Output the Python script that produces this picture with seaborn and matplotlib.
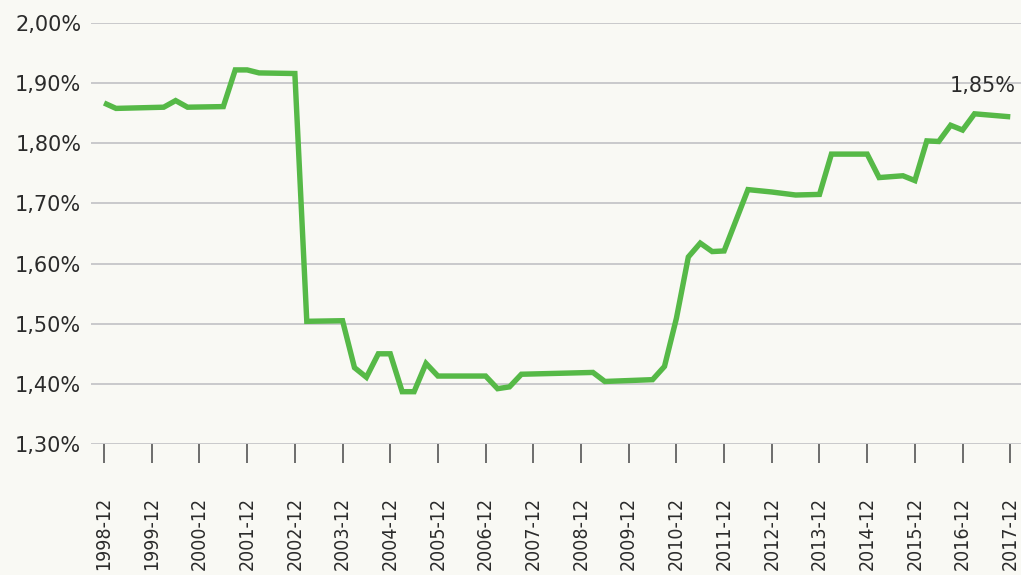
import matplotlib
matplotlib.use("Agg")
import matplotlib.pyplot as plt
import seaborn as sns
import pandas as pd
from matplotlib.ticker import FuncFormatter, FixedLocator

periods = ["1998-12", "1999-03", "2000-03", "2000-06", "2000-09", "2001-06", "2001-09",
           "2001-12", "2002-03", "2002-12", "2003-03", "2003-12", "2004-03", "2004-06",
           "2004-09", "2004-12", "2005-03", "2005-06", "2005-09", "2005-12", "2006-12",
           "2007-03", "2007-06", "2007-09", "2009-03", "2009-06", "2010-06", "2010-09",
           "2010-12", "2011-03", "2011-06", "2011-09", "2011-12", "2012-06", "2012-12",
           "2013-06", "2013-12", "2014-03", "2014-12", "2015-03", "2015-09", "2015-12",
           "2016-03", "2016-06", "2016-09", "2016-12", "2017-03", "2017-12"]
values = [1.867, 1.858, 1.860, 1.871, 1.860, 1.861, 1.922,
          1.922, 1.917, 1.916, 1.504, 1.505, 1.427, 1.411,
          1.450, 1.450, 1.387, 1.387, 1.434, 1.413, 1.413,
          1.392, 1.395, 1.416, 1.419, 1.404, 1.407, 1.429,
          1.509, 1.611, 1.634, 1.620, 1.621, 1.723, 1.719,
          1.714, 1.715, 1.782, 1.782, 1.743, 1.746, 1.738,
          1.804, 1.803, 1.830, 1.822, 1.849, 1.844]
tick_labels = [f"{y}-12" for y in range(1998, 2018)]
y_ticks = [1.30, 1.40, 1.50, 1.60, 1.70, 1.80, 1.90, 2.00]
last_label = "1,85%"

BG = "#f9f9f4"
GREEN = "#56b947"
TEXT = "#2b2b2b"
GRID = "#c6c6c8"


def quarter_index(p):
    y, m = p.split("-")
    return (int(y) - 1998) * 4 + (int(m) - 12) // 3


df = pd.DataFrame({"period": periods, "value": values})
df["q"] = df["period"].map(quarter_index)

sns.set_theme(style="white")
plt.rcParams["font.family"] = ["DejaVu Sans"]

fig = plt.figure(figsize=(10.21, 5.75), dpi=100, facecolor=BG)
ax = fig.add_axes([0.0891, 0.2278, 0.9109, 0.7322])
ax.set_facecolor(BG)

sns.lineplot(data=df, x="q", y="value", ax=ax, color=GREEN, linewidth=3.9,
             solid_joinstyle="miter", solid_capstyle="butt")

ax.set_ylim(1.30, 2.00)
ax.set_xlim(-1.1, 76.9)
ax.yaxis.set_major_locator(FixedLocator(y_ticks))
ax.yaxis.set_major_formatter(FuncFormatter(lambda v, _: f"{v:.2f}%".replace(".", ",")))
ax.grid(axis="y", color=GRID, linewidth=1.3)
ax.set_axisbelow(True)

tick_pos = [quarter_index(t) for t in tick_labels]
ax.set_xticks(tick_pos)
ax.set_xticklabels(tick_labels, rotation=90, va="top", ha="center",
                   fontstretch="condensed", fontsize=14, color=TEXT)
ax.tick_params(axis="x", which="major", bottom=True, length=14, width=1.2,
               color="#555555", pad=24)
ax.tick_params(axis="y", left=False, length=0, labelsize=15, labelcolor=TEXT, pad=7)

for s in ax.spines.values():
    s.set_visible(False)

ax.set_xlabel("")
ax.set_ylabel("")

ax.annotate(last_label, xy=(df["q"].iloc[-1], df["value"].iloc[-1]),
            xytext=(4, 22), textcoords="offset points", ha="right", va="center",
            fontsize=15, color=TEXT)

fig.savefig("out.png", dpi=100, facecolor=BG)
